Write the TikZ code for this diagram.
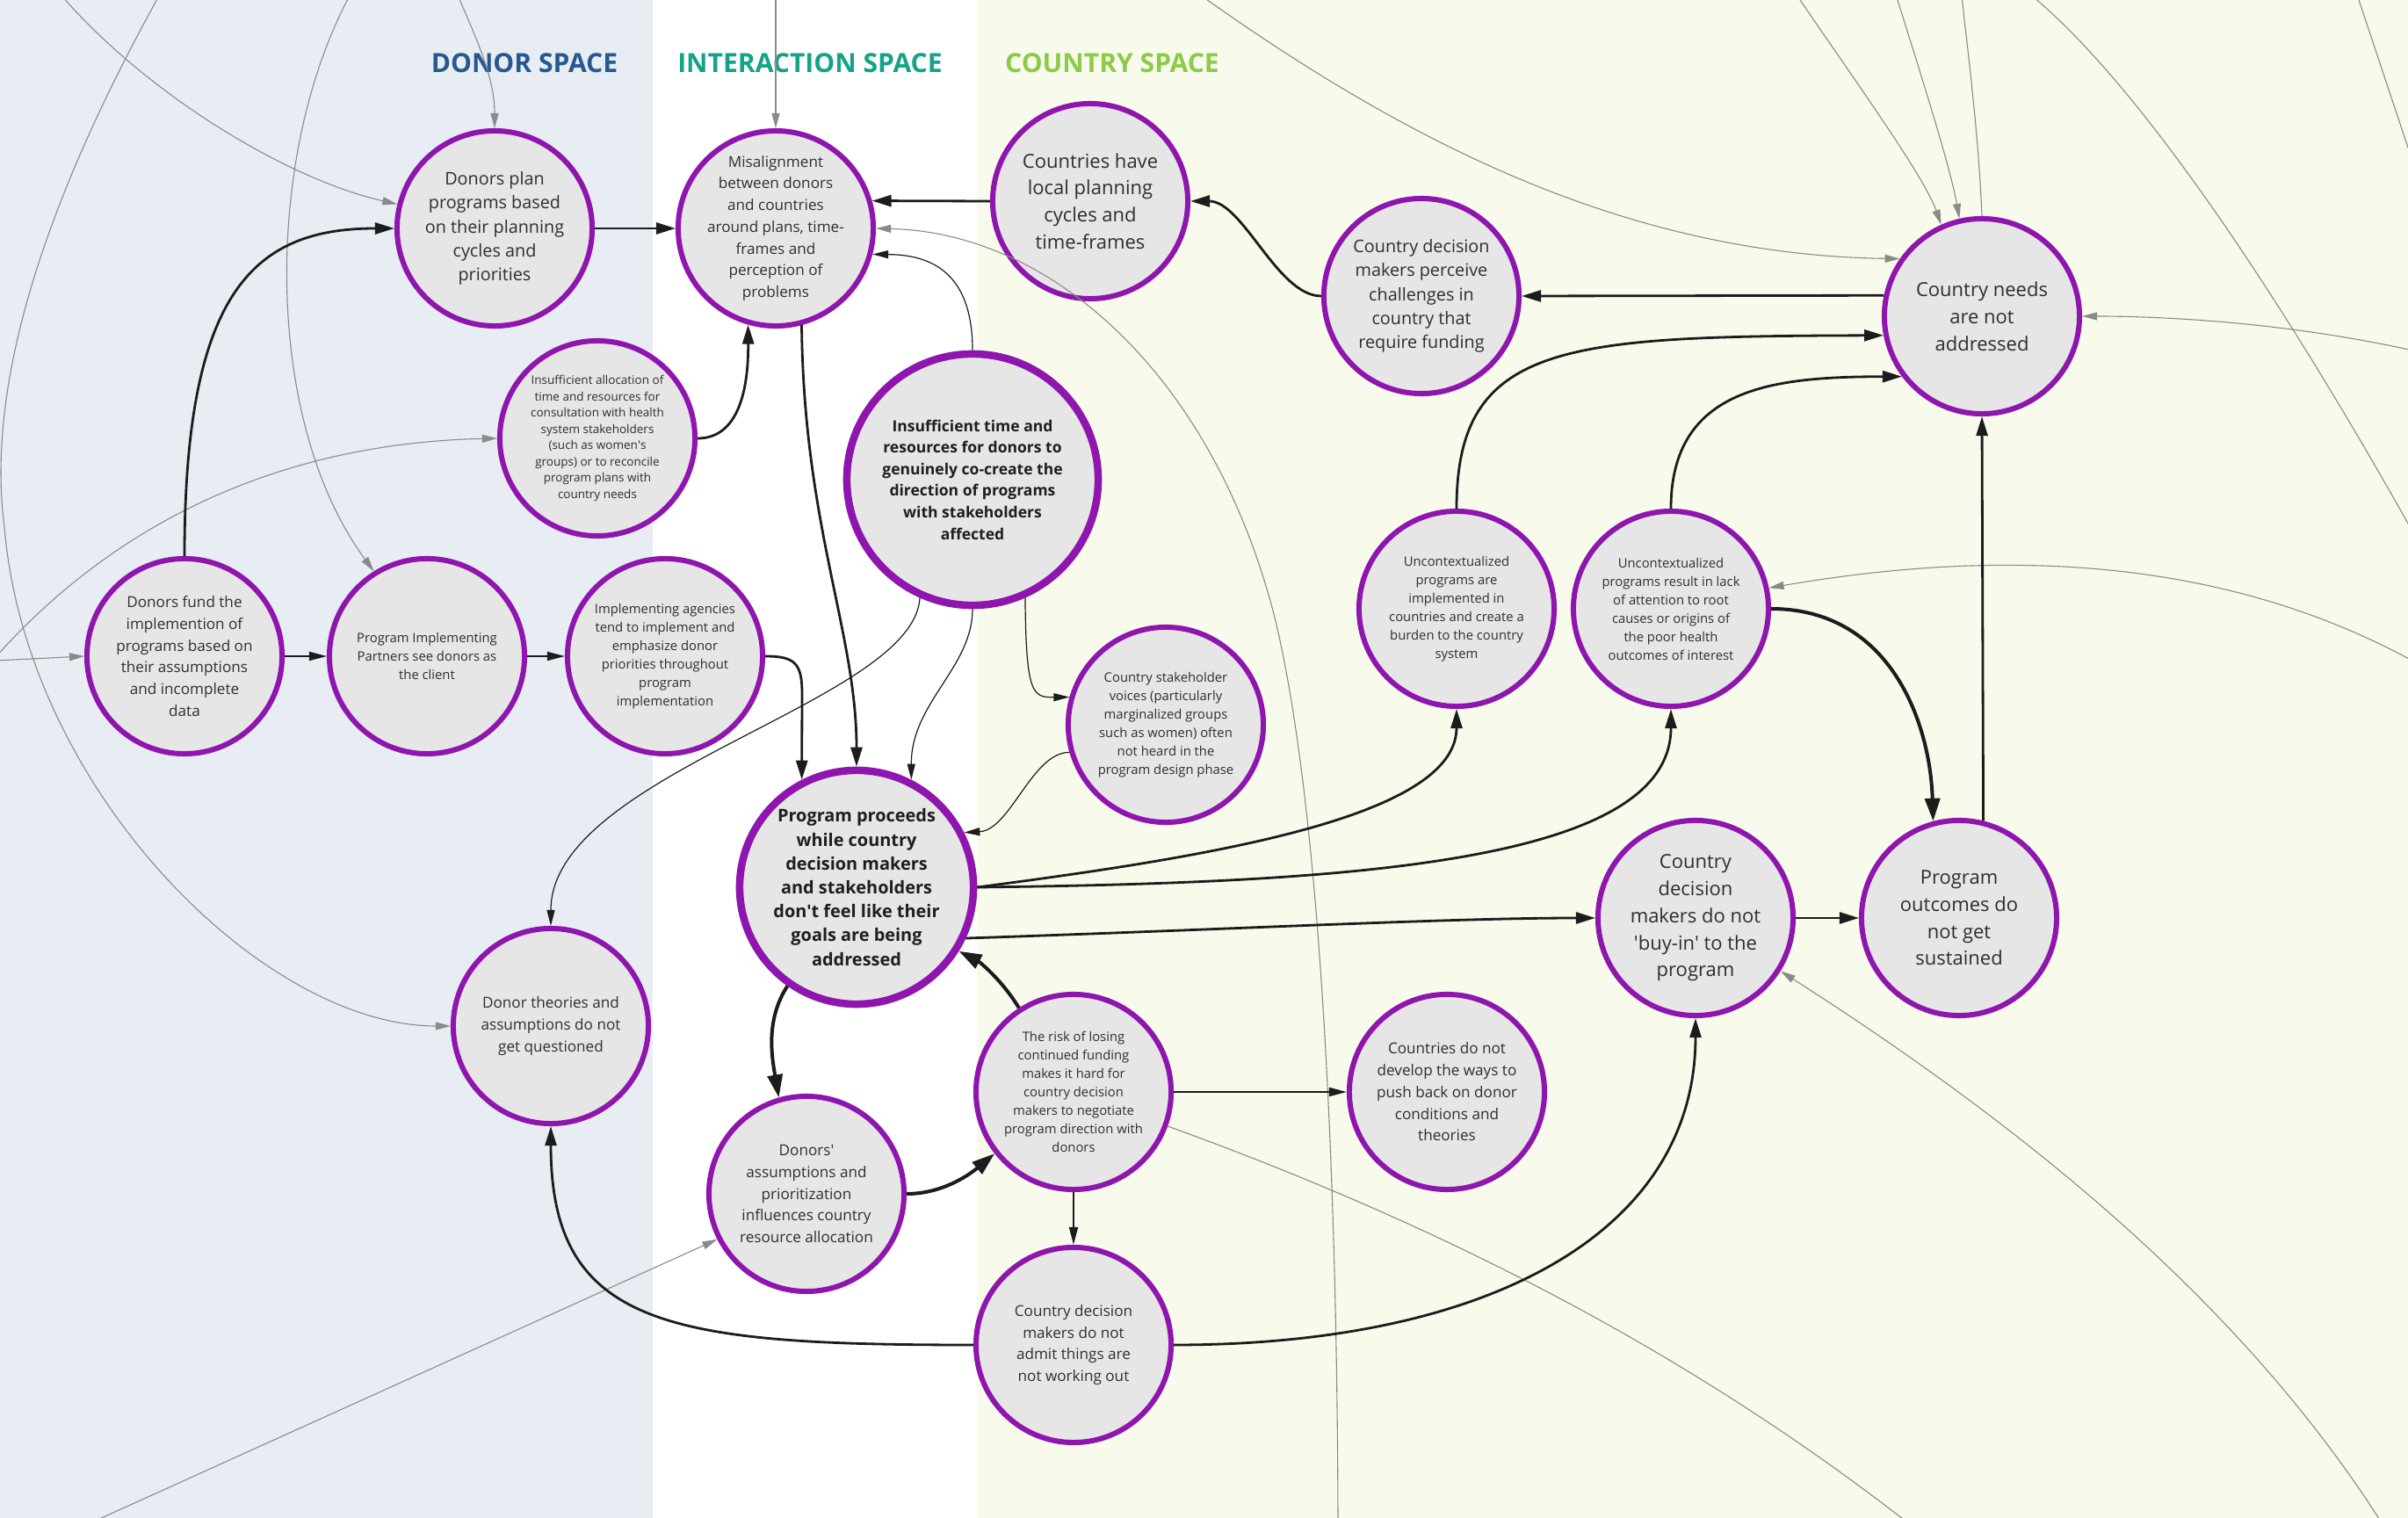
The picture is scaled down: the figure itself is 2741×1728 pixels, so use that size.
\documentclass[tikz,border=0pt]{standalone}
\usepackage{fontspec}
\setmainfont{Open Sans}
\usetikzlibrary{arrows.meta}

\definecolor{donorbg}{HTML}{E8EDF4}
\definecolor{countrybg}{HTML}{F8FBEB}
\definecolor{nodefill}{HTML}{E6E6E6}
\definecolor{nodepurple}{HTML}{8E15AD}
\definecolor{txt}{HTML}{2E2E2E}
\definecolor{txtb}{HTML}{1E1E1E}
\definecolor{edgeblack}{HTML}{1C1C1C}
\definecolor{edgegray}{HTML}{8A8A8A}
\definecolor{donorblue}{HTML}{26598F}
\definecolor{interteal}{HTML}{13A388}
\definecolor{countrygreen}{HTML}{8CCB48}

\newcommand\fsA{\fontsize{6.26pt}{8.76pt}\selectfont}
\newcommand\fsB{\fontsize{5.63pt}{7.8pt}\selectfont}
\newcommand\fsC{\fontsize{4.87pt}{7.03pt}\selectfont}
\newcommand\fsD{\fontsize{4.21pt}{5.97pt}\selectfont}
\newcommand\fsE{\fontsize{3.84pt}{5.26pt}\selectfont}
\newcommand\fsIT{\bfseries\fontsize{4.98pt}{7.0pt}\selectfont}
\newcommand\fsPP{\bfseries\fontsize{5.66pt}{7.74pt}\selectfont}
\newcommand\q{\textquotesingle}

\begin{document}
\begin{tikzpicture}[x=0.01cm, y=-0.01cm,
  cnode/.style={circle, draw=nodepurple, line width=0.06cm, fill=nodefill,
    minimum size=2.22cm, inner sep=-1cm, align=center, text=txt},
  bignode/.style={cnode, line width=0.085cm, text=txtb},
  title/.style={font=\bfseries\fontsize{8.55pt}{10pt}\selectfont, inner sep=0pt},
  bk/.style={draw=edgeblack, line width=0.028cm, -{Triangle[length=0.22cm,width=0.13cm]}},
  bx/.style={draw=edgeblack, line width=0.04cm, -{Triangle[length=0.26cm,width=0.17cm]}},
  bm/.style={draw=edgeblack, line width=0.018cm, -{Triangle[length=0.2cm,width=0.1cm]}},
  bt/.style={draw=edgeblack, line width=0.012cm, -{Triangle[length=0.18cm,width=0.09cm]}},
  gr/.style={draw=edgegray, line width=0.011cm, -{Triangle[length=0.17cm,width=0.09cm]}},
  gl/.style={draw=edgegray, line width=0.011cm}]

\useasboundingbox (0,0) rectangle (2741,1728);
\clip (0,0) rectangle (2741,1728);
\fill[donorbg] (0,0) rectangle (743,1728);
\fill[white] (743,0) rectangle (1112,1728);
\fill[countrybg] (1112,0) rectangle (2741,1728);

% titles
\node[title, text=donorblue] (tD) at (597,72) {DONOR SPACE};
\node[title, text=interteal] (tI) at (922,72) {INTERACTION SPACE};
\node[title, text=countrygreen] (tC) at (1266,72) {COUNTRY SPACE};

% nodes
\node[cnode, font=\fsB] (DP) at (563,260) {Donors plan\\programs based\\on their planning\\cycles and\\priorities};
\node[cnode, font=\fsC] (MIS) at (883,260) {Misalignment\\between donors\\and countries\\around plans, time-\\frames and\\perception of\\problems};
\node[cnode, font=\fsA] (CLP) at (1241,229) {Countries have\\local planning\\cycles and\\time-frames};
\node[cnode, font=\fsB] (CDP) at (1618,337) {Country decision\\makers perceive\\challenges in\\country that\\require funding};
\node[cnode, font=\fsA] (CN) at (2256,360) {Country needs\\are not\\addressed};
\node[cnode, font=\fsE] (IA) at (680,499) {Insufficient allocation of\\time and resources for\\consultation with health\\system stakeholders\\(such as women\q s\\groups) or to reconcile\\program plans with\\country needs};
\node[bignode, minimum size=2.86cm, font=\fsIT] (IT) at (1107,546) {Insufficient time and\\resources for donors to\\genuinely co-create the\\direction of programs\\with stakeholders\\affected};
\node[cnode, font=\fsC] (DF) at (210,747) {Donors fund the\\implemention of\\programs based on\\their assumptions\\and incomplete\\data};
\node[cnode, font=\fsD] (PIP) at (486,747) {Program Implementing\\Partners see donors as\\the client};
\node[cnode, font=\fsD] (IAG) at (757,747) {Implementing agencies\\tend to implement and\\emphasize donor\\priorities throughout\\program\\implementation};
\node[bignode, minimum size=2.66cm, font=\fsPP] (PP) at (975,1010) {Program proceeds\\while country\\decision makers\\and stakeholders\\don\q t feel like their\\goals are being\\addressed};
\node[cnode, font=\fsD] (CSV) at (1327,825) {Country stakeholder\\voices (particularly\\marginalized groups\\such as women) often\\not heard in the\\program design phase};
\node[cnode, font=\fsD] (UA) at (1658,693) {Uncontextualized\\programs are\\implemented in\\countries and create a\\burden to the country\\system};
\node[cnode, font=\fsD] (UB) at (1902,693) {Uncontextualized\\programs result in lack\\of attention to root\\causes or origins of\\the poor health\\outcomes of interest};
\node[cnode, font=\fsA] (BUY) at (1930,1045) {Country\\decision\\makers do not\\\q buy-in\q{} to the\\program};
\node[cnode, font=\fsA] (POS) at (2230,1045) {Program\\outcomes do\\not get\\sustained};
\node[cnode, font=\fsC] (DT) at (627,1168) {Donor theories and\\assumptions do not\\get questioned};
\node[cnode, font=\fsC] (DA) at (918,1359) {Donors\q\\assumptions and\\prioritization\\influences country\\resource allocation};
\node[cnode, font=\fsD] (RL) at (1222,1243) {The risk of losing\\continued funding\\makes it hard for\\country decision\\makers to negotiate\\program direction with\\donors};
\node[cnode, font=\fsC] (CDD) at (1647,1243) {Countries do not\\develop the ways to\\push back on donor\\conditions and\\theories};
\node[cnode, font=\fsC] (CDA) at (1222,1531) {Country decision\\makers do not\\admit things are\\not working out};

% off-canvas end points
\coordinate (g1) at (70,-5);
\coordinate (g2) at (522,-3);
\coordinate (g3) at (883,-3);
\coordinate (g4) at (180,-3);
\coordinate (g5) at (397,-3);
\coordinate (g6) at (-40,790);
\coordinate (g7) at (-5,752);
\coordinate (g9) at (1523,1735);
\coordinate (g10a) at (2047,-3);
\coordinate (g10b) at (2159,-3);
\coordinate (g10c) at (2233,-5);
\coordinate (g11) at (1370,-3);
\coordinate (g12a) at (2315,-3);
\coordinate (g12e) at (2745,603);
\coordinate (g12b) at (2684,-3);
\coordinate (g12f) at (2745,180);
\coordinate (g13) at (2760,402);
\coordinate (g14) at (2760,760);
\coordinate (g15) at (2712,1735);
\coordinate (g16) at (2180,1740);
\coordinate (g17) at (100,1735);

% gray connectors
\draw[gr] (g1) .. controls (170,110) and (330,205) .. (DP.166);
\draw[gr] (g2) .. controls (545,50) and (563,90) .. (DP.north);
\draw[gr] (g3) -- (MIS.north);
\draw[gr] (g4) .. controls (40,250) and (-15,450) .. (5,600) .. controls (30,900) and (300,1168) .. (DT.west);
\draw[gr] (g5) .. controls (300,180) and (300,480) .. (PIP.122);
\draw[gr] (g6) .. controls (100,610) and (300,505) .. (IA.west);
\draw[gr] (g7) -- (DF.west);
\draw[gr] (g9) .. controls (1522,1300) and (1500,900) .. (1450,699) .. controls (1380,430) and (1200,265) .. (MIS.east);
\draw[gr] (g10a) .. controls (2110,90) and (2190,200) .. (CN.114);
\draw[gr] (g10b) .. controls (2185,80) and (2220,190) .. (CN.103);
\draw[gl] (CN.north) .. controls (2252,150) and (2240,60) .. (g10c);
\draw[gr] (g11) .. controls (1600,160) and (1850,290) .. (CN.145);
\draw[gl] (g12a) .. controls (2450,110) and (2620,380) .. (g12e);
\draw[gl] (g12b) .. controls (2705,60) and (2725,120) .. (g12f);
\draw[gr] (g13) .. controls (2600,365) and (2450,360) .. (CN.east);
\draw[gr] (g14) .. controls (2550,640) and (2300,620) .. (UB.12);
\draw[gr] (g15) .. controls (2550,1480) and (2300,1280) .. (BUY.-32);
\draw[gl] (RL.-20) .. controls (1600,1380) and (1900,1520) .. (g16);
\draw[gr] (g17) -- (DA.207);

% black connectors
\draw[bk] (DP) -- (MIS);
\draw[bk] (CLP.west) -- (MIS.16);
\draw[bk] (CDP.west) .. controls +(-50,0) and +(60,0) .. (CLP.east);
\draw[bk] (CN.168) -- (CDP.east);
\draw[bk] (UA.north) .. controls (1658,390) and (1780,383) .. (CN.191);
\draw[bk] (UB.north) .. controls (1902,440) and (2020,429) .. (CN.217);
\draw[bx] (UB.east) .. controls (2150,693) and (2197,820) .. (POS.105);
\draw[bk] (POS.76) -- (CN.south);
\draw[bk] (BUY) -- (POS);
\draw[bk] (PP.east) .. controls (1380,975) and (1658,930) .. (UA.south);
\draw[bk] (PP.east) .. controls (1550,1005) and (1902,980) .. (UB.south);
\draw[bk] (PP.-25) .. controls (1400,1058) and (1650,1045) .. (BUY.west);
\draw[bk] (IAG.east) .. controls (905,747) and (913,755) .. (913,790) -- (PP.117);
\draw[bk] (MIS.-75) .. controls (915,600) and (975,720) .. (PP.north);
\draw[bk] (IA.east) .. controls (840,499) and (852,445) .. (MIS.-106);
\draw[bx] (PP.-125) .. controls (872,1160) and (878,1200) .. (DA.106);
\draw[bx] (DA.east) .. controls (1070,1359) and (1100,1340) .. (RL.218);
\draw[bx] (RL.123) .. controls (1140,1115) and (1115,1095) .. (PP.-32);
\draw[bm] (RL) -- (CDD);
\draw[bm] (RL) -- (CDA);
\draw[bk] (CDA.west) .. controls (760,1531) and (627,1510) .. (DT.south);
\draw[bk] (CDA.east) .. controls (1700,1531) and (1930,1400) .. (BUY.south);
\draw[bk] (DF.north) .. controls (210,330) and (290,260) .. (DP.west);
\draw[bm] (DF) -- (PIP);
\draw[bm] (PIP) -- (IAG);
\draw[bt] (IT.north) .. controls (1107,320) and (1070,290) .. (MIS.-15);
\draw[bt] (IT.south) .. controls (1107,760) and (1037,800) .. (PP.63);
\draw[bt] (IT.-114) .. controls (1040,800) and (627,880) .. (DT.north);
\draw[bt] (IT.-66) .. controls (1168,790) and (1175,794) .. (CSV.164);
\draw[bt] (CSV.196) .. controls (1175,856) and (1150,945) .. (PP.27);
\end{tikzpicture}
\end{document}
